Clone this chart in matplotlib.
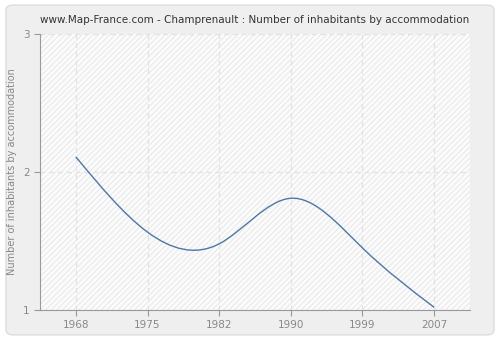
import matplotlib
matplotlib.use("Agg")
import matplotlib.pyplot as plt
from matplotlib.patches import FancyBboxPatch, Rectangle, PathPatch
from matplotlib.path import Path
import numpy as np

# Data
years = ["1968", "1975", "1982", "1990", "1999", "2007"]
inhabitants = [2.11, 1.565, 1.48, 1.81, 1.45, 1.02]
y_ticks = [1, 2, 3]

fig = plt.figure(figsize=(5, 3.4), dpi=100)
fig.patch.set_facecolor("white")

# rounded light-grey panel behind everything
panel = FancyBboxPatch((0.012, 0.015), 0.976, 0.97,
                       boxstyle="round,pad=0,rounding_size=0.015",
                       transform=fig.transFigure, facecolor="#efefef",
                       edgecolor="#dcdcdc", linewidth=1.0, zorder=-10)
fig.patches.append(panel)

ax = fig.add_axes([0.08, 0.088, 0.86, 0.812])
ax.set_facecolor("#fcfcfc")
ax.add_patch(Rectangle((0, 0), 1, 1, transform=ax.transAxes, facecolor="none",
                       edgecolor="#ececec", hatch="//////", linewidth=0, zorder=0))

x = np.arange(len(years))
y = np.array(inhabitants)
n = len(x)

# slopes of a natural cubic spline through the points (unit spacing)
A = np.zeros((n, n))
b = np.zeros(n)
A[0, 0], A[0, 1], b[0] = 2, 1, 3 * (y[1] - y[0])
A[-1, -2], A[-1, -1], b[-1] = 1, 2, 3 * (y[-1] - y[-2])
for i in range(1, n - 1):
    A[i, i - 1], A[i, i], A[i, i + 1] = 1, 4, 1
    b[i] = 3 * (y[i + 1] - y[i - 1])
m = np.linalg.solve(A, b)

# draw the curve as cubic Bezier segments
verts = [(x[0], y[0])]
codes = [Path.MOVETO]
for i in range(n - 1):
    verts += [(x[i] + 1 / 3, y[i] + m[i] / 3),
              (x[i + 1] - 1 / 3, y[i + 1] - m[i + 1] / 3),
              (x[i + 1], y[i + 1])]
    codes += [Path.CURVE4] * 3
ax.add_patch(PathPatch(Path(verts, codes), facecolor="none", edgecolor="#4a78a8",
                       linewidth=1.0, zorder=3))

ax.set_xlim(-0.5, len(years) - 0.5)
ax.set_ylim(1, 3)
ax.set_xticks(x)
ax.set_xticklabels(years)
ax.set_yticks(y_ticks)

ax.grid(True, color="#e2e2e2", linestyle=(0, (4, 3)), linewidth=0.9)
ax.set_axisbelow(True)
for s in ["top", "right"]:
    ax.spines[s].set_visible(False)
for s in ["left", "bottom"]:
    ax.spines[s].set_color("#999999")
ax.tick_params(colors="#999999", labelcolor="#888888", labelsize=7.5, length=4)

ax.set_ylabel("Number of inhabitants by accommodation", color="#888888", fontsize=7)
ax.set_title("www.Map-France.com - Champrenault : Number of inhabitants by accommodation",
             fontsize=7.5, color="#333333", pad=8)

fig.savefig("out.png", dpi=100, facecolor=fig.get_facecolor())
